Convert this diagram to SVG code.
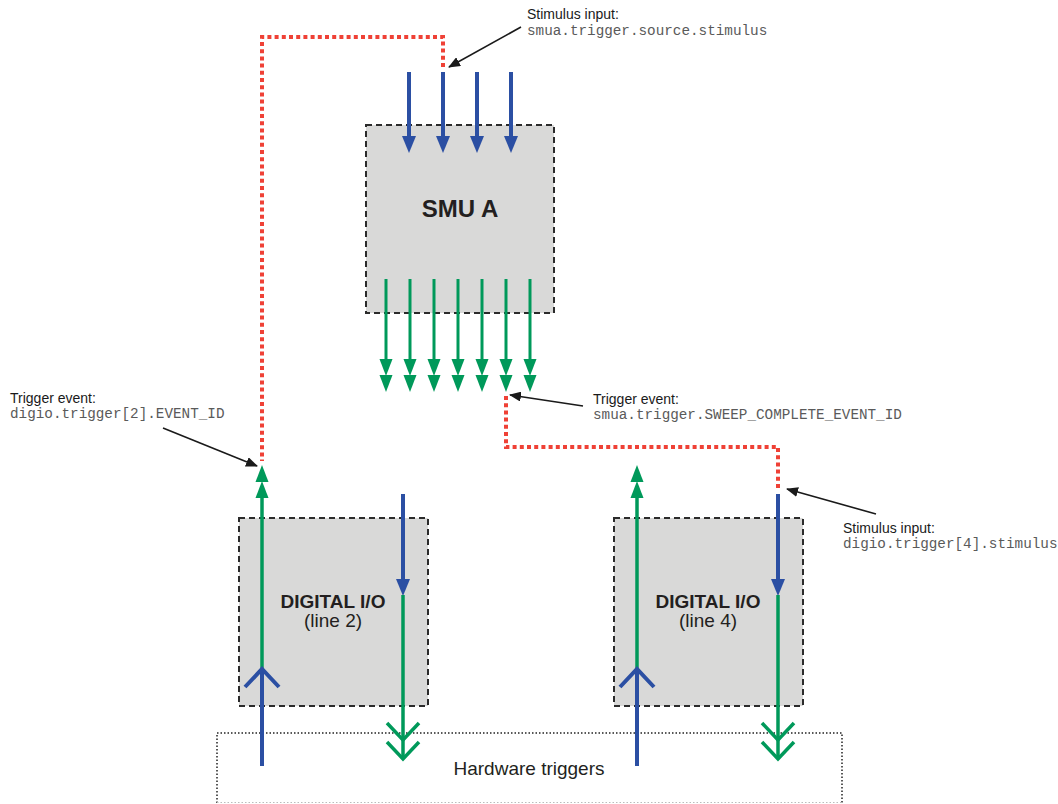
<svg xmlns="http://www.w3.org/2000/svg" width="1058" height="804" viewBox="0 0 1058 804">
<style>
.box{fill:#d9d9d8;stroke:#2b2b2b;stroke-width:2;stroke-dasharray:6,4}
.hw{fill:none;stroke:#222;stroke-width:1.5;stroke-dasharray:1.5,2}
.hwb{fill:none;stroke:#bbb;stroke-width:1.2;stroke-dasharray:1.5,2}
.blue{stroke:#2b4fa3;stroke-width:4;fill:none}
.green{stroke:#00995a;stroke-width:3.5;fill:none}
.gthin{stroke:#00995a;stroke-width:3;fill:none}
.bfill{fill:#2b4fa3}
.gfill{fill:#00995a}
.red{stroke:#ef4136;stroke-width:4;fill:none;stroke-dasharray:4,3.2}
.ann{stroke:#1a1a1a;stroke-width:1.6;fill:none;marker-end:url(#ah)}
.lbl{font-family:"Liberation Sans",Arial,sans-serif;font-size:14px;fill:#1a1a1a}
.code{font-family:"Liberation Mono","Courier New",monospace;font-size:14.3px;fill:#5a5a5a}
.title{font-family:"Liberation Sans",Arial,sans-serif;font-weight:bold;fill:#231f20;text-anchor:middle}
.sub{font-family:"Liberation Sans",Arial,sans-serif;fill:#231f20;text-anchor:middle}
</style>
<defs>
<marker id="ah" viewBox="0 0 12 10" refX="11" refY="5" markerWidth="12" markerHeight="10" markerUnits="userSpaceOnUse" orient="auto">
<path d="M0,0 L12,5 L0,10 Z" fill="#1a1a1a"/>
</marker>
<path id="bdown" d="M-7,0 L7,0 L0,17 Z"/>
<path id="gdown" d="M-6.5,0 L6.5,0 L0,17 Z"/>
<path id="gup" d="M-6.5,0 L6.5,0 L0,-17 Z"/>
<polyline id="chevdn" points="-16,-17 0,0 16,-17"/>
<polyline id="chevup" points="-17,18 0,0 17,18"/>
</defs>

<g id="hardware-triggers">
<path class="hw" d="M217,803 V733 H842 V803"/>
<path class="hwb" d="M217,802.5 H842"/>
<text class="sub" x="529" y="775" font-size="19">Hardware triggers</text>
</g>

<g id="smu-a">
<rect class="box" x="366" y="125" width="188" height="188"/>
<text class="title" x="460" y="217" font-size="24">SMU A</text>
</g>

<g id="digio-line2">
<rect class="box" x="239" y="518" width="189" height="188"/>
<text class="title" x="333" y="608" font-size="19">DIGITAL I/O</text>
<text class="sub" x="333" y="627" font-size="19">(line 2)</text>
</g>

<g id="digio-line4">
<rect class="box" x="614" y="518" width="189" height="188"/>
<text class="title" x="708" y="608" font-size="19">DIGITAL I/O</text>
<text class="sub" x="708" y="627" font-size="19">(line 4)</text>
</g>

<g id="connectors">
<!-- SMU stimulus inputs -->
<g class="blue">
<line x1="409" y1="72" x2="409" y2="138"/>
<line x1="443" y1="72" x2="443" y2="138"/>
<line x1="477" y1="72" x2="477" y2="138"/>
<line x1="511" y1="72" x2="511" y2="138"/>
</g>
<g class="bfill">
<use href="#bdown" x="409" y="136"/>
<use href="#bdown" x="443" y="136"/>
<use href="#bdown" x="477" y="136"/>
<use href="#bdown" x="511" y="136"/>
</g>
<!-- SMU trigger events -->
<g class="gthin">
<line x1="386" y1="279" x2="386" y2="361"/>
<line x1="410" y1="279" x2="410" y2="361"/>
<line x1="434" y1="279" x2="434" y2="361"/>
<line x1="458" y1="279" x2="458" y2="361"/>
<line x1="482" y1="279" x2="482" y2="361"/>
<line x1="506" y1="279" x2="506" y2="361"/>
<line x1="530" y1="279" x2="530" y2="361"/>
</g>
<g class="gfill">
<use href="#gdown" x="386" y="359"/><use href="#gdown" x="386" y="375"/>
<use href="#gdown" x="410" y="359"/><use href="#gdown" x="410" y="375"/>
<use href="#gdown" x="434" y="359"/><use href="#gdown" x="434" y="375"/>
<use href="#gdown" x="458" y="359"/><use href="#gdown" x="458" y="375"/>
<use href="#gdown" x="482" y="359"/><use href="#gdown" x="482" y="375"/>
<use href="#gdown" x="506" y="359"/><use href="#gdown" x="506" y="375"/>
<use href="#gdown" x="530" y="359"/><use href="#gdown" x="530" y="375"/>
</g>

<!-- DIO line 2 -->
<line class="green" x1="262" y1="669" x2="262" y2="496"/>
<g class="gfill">
<use href="#gup" x="262" y="482"/><use href="#gup" x="262" y="498"/>
</g>
<line class="blue" x1="262" y1="766" x2="262" y2="670"/>
<use href="#chevup" x="262" y="669" class="blue"/>
<line class="blue" x1="403" y1="494" x2="403" y2="582"/>
<use href="#bdown" x="403" y="579" class="bfill"/>
<line class="green" x1="403" y1="595" x2="403" y2="758"/>
<use href="#chevdn" x="403" y="740" class="green"/>
<use href="#chevdn" x="403" y="759" class="green"/>

<!-- DIO line 4 -->
<line class="green" x1="637" y1="669" x2="637" y2="496"/>
<g class="gfill">
<use href="#gup" x="637" y="482"/><use href="#gup" x="637" y="498"/>
</g>
<line class="blue" x1="637" y1="766" x2="637" y2="670"/>
<use href="#chevup" x="637" y="669" class="blue"/>
<line class="blue" x1="778" y1="494" x2="778" y2="582"/>
<use href="#bdown" x="778" y="579" class="bfill"/>
<line class="green" x1="778" y1="595" x2="778" y2="758"/>
<use href="#chevdn" x="778" y="740" class="green"/>
<use href="#chevdn" x="778" y="759" class="green"/>

<!-- dotted trigger routes -->
<path class="red" d="M443,67 V37 H262 V461"/>
<path class="red" d="M506,396 V447 H778 V488"/>
</g>

<g id="annotations">
<text class="lbl" x="527" y="19">Stimulus input:</text>
<text class="code" x="527" y="35">smua.trigger.source.stimulus</text>
<line class="ann" x1="521" y1="27" x2="449" y2="67"/>

<text class="lbl" x="10" y="403">Trigger event:</text>
<text class="code" x="10" y="418">digio.trigger[2].EVENT_ID</text>
<line class="ann" x1="163" y1="428" x2="257" y2="466"/>

<text class="lbl" x="593" y="404">Trigger event:</text>
<text class="code" x="593" y="419">smua.trigger.SWEEP_COMPLETE_EVENT_ID</text>
<line class="ann" x1="583" y1="406" x2="510" y2="395"/>

<text class="lbl" x="843" y="533">Stimulus input:</text>
<text class="code" x="843" y="548">digio.trigger[4].stimulus</text>
<line class="ann" x1="876" y1="514" x2="787" y2="489"/>
</g>
</svg>
